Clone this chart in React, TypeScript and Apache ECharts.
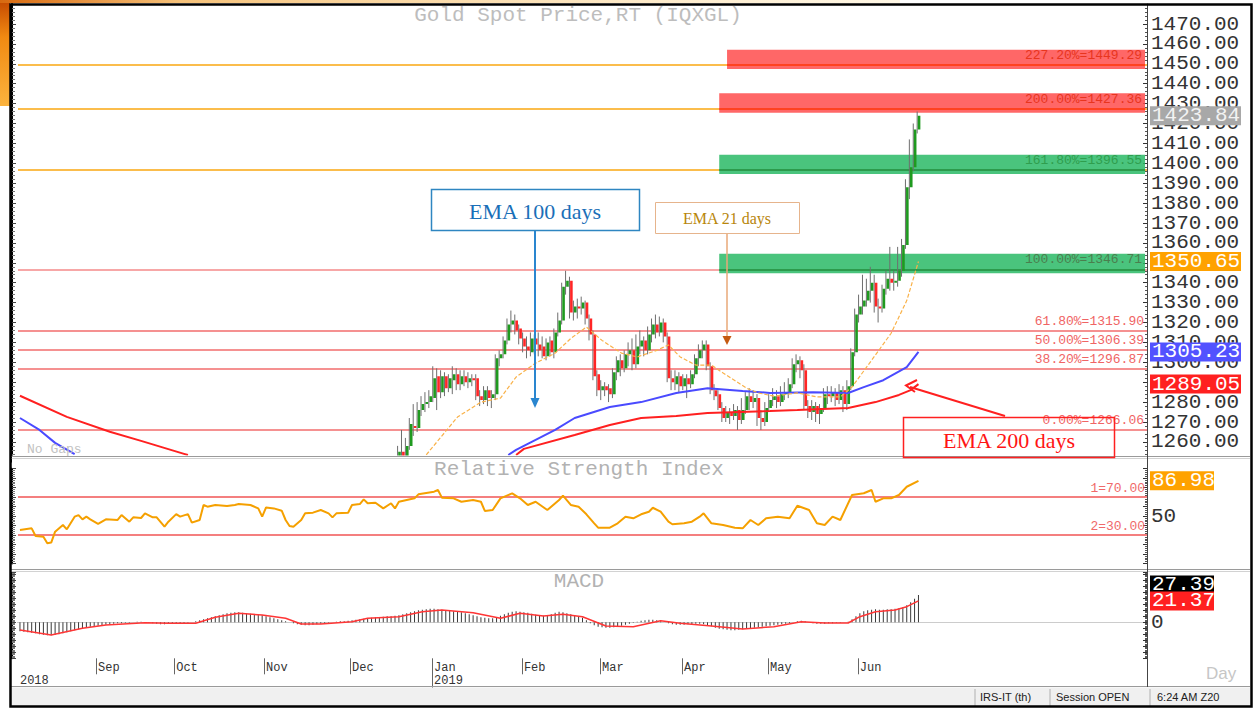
import React, { useEffect, useRef } from "react";
import * as echarts from "echarts";

// ---------- categories (trading weekdays) ----------
const TOTAL_DAYS = 289;
const FIRST_DAY = [2018, 7, 6]; // 2018-08-06
const LAST_DATA_INDEX = 230;
const MONTH_NAMES = ["Jan", "Feb", "Mar", "Apr", "May", "Jun", "Jul", "Aug", "Sep", "Oct", "Nov", "Dec"];

function buildWeekdays(n: number): string[] {
  const out: string[] = [];
  const d = new Date(Date.UTC(FIRST_DAY[0], FIRST_DAY[1], FIRST_DAY[2]));
  while (out.length < n) {
    const wd = d.getUTCDay();
    if (wd !== 0 && wd !== 6) out.push(d.toISOString().slice(0, 10));
    d.setUTCDate(d.getUTCDate() + 1);
  }
  return out;
}
const days = buildWeekdays(TOTAL_DAYS);

// ---------- price candles [open, close, low, high] ----------
const CANDLE_START = 97;
const candles: number[][] = [
  [1247, 1255, 1245, 1258], [1255, 1252, 1249, 1266], [1252, 1258, 1250, 1262], [1258, 1269, 1256, 1272],
  [1268, 1267, 1263, 1279], [1267, 1276, 1265, 1280], [1276, 1279, 1273, 1283], [1279, 1280, 1275, 1285],
  [1280, 1283, 1277, 1286], [1282, 1292, 1280, 1298], [1293, 1285, 1276, 1297], [1285, 1293, 1282, 1296],
  [1293, 1287, 1283, 1295], [1287, 1292, 1285, 1294], [1291, 1294, 1284, 1298], [1294, 1289, 1286, 1297],
  [1289, 1293, 1286, 1296], [1293, 1290, 1288, 1296], [1290, 1292, 1287, 1295], [1292, 1291, 1288, 1294],
  [1292, 1283, 1281, 1294], [1283, 1281, 1278, 1286], [1281, 1286, 1279, 1288], [1286, 1282, 1278, 1288],
  [1282, 1284, 1277, 1286], [1284, 1302, 1281, 1304], [1302, 1304, 1298, 1306], [1304, 1311, 1302, 1313],
  [1311, 1319, 1309, 1322], [1319, 1321, 1315, 1326], [1321, 1316, 1314, 1324], [1317, 1312, 1309, 1319],
  [1312, 1308, 1305, 1315], [1308, 1306, 1302, 1313], [1305, 1312, 1303, 1315], [1312, 1309, 1304, 1314],
  [1309, 1306, 1303, 1315], [1308, 1303, 1302, 1313], [1303, 1310, 1301, 1312], [1311, 1305, 1303, 1313],
  [1305, 1315, 1302, 1317], [1315, 1321, 1313, 1325], [1321, 1338, 1319, 1340], [1338, 1341, 1334, 1346],
  [1341, 1325, 1322, 1343], [1325, 1328, 1321, 1331], [1328, 1327, 1322, 1332], [1327, 1330, 1324, 1333],
  [1330, 1322, 1319, 1331], [1322, 1314, 1311, 1324], [1314, 1293, 1291, 1316], [1294, 1286, 1283, 1296],
  [1286, 1288, 1281, 1291], [1288, 1286, 1283, 1290], [1287, 1284, 1280, 1289], [1284, 1295, 1282, 1297],
  [1295, 1301, 1291, 1303], [1301, 1297, 1293, 1304], [1297, 1304, 1295, 1306], [1304, 1306, 1298, 1310],
  [1306, 1299, 1296, 1312], [1299, 1308, 1297, 1314], [1308, 1311, 1304, 1316], [1311, 1306, 1303, 1313],
  [1306, 1314, 1304, 1318], [1314, 1319, 1310, 1322], [1319, 1315, 1312, 1324], [1315, 1320, 1313, 1323],
  [1320, 1313, 1310, 1322], [1313, 1292, 1290, 1315], [1292, 1290, 1286, 1296], [1289, 1293, 1286, 1296],
  [1293, 1288, 1285, 1295], [1288, 1292, 1286, 1294], [1292, 1289, 1282, 1294], [1289, 1294, 1287, 1296],
  [1294, 1302, 1292, 1304], [1302, 1306, 1298, 1309], [1306, 1309, 1302, 1311], [1309, 1298, 1296, 1311],
  [1298, 1286, 1284, 1300], [1286, 1283, 1281, 1289], [1284, 1277, 1276, 1286], [1277, 1272, 1270, 1280],
  [1272, 1275, 1270, 1278], [1275, 1273, 1269, 1277], [1273, 1276, 1271, 1279], [1276, 1271, 1266, 1278],
  [1271, 1276, 1269, 1282], [1276, 1283, 1274, 1285], [1283, 1280, 1276, 1287], [1280, 1282, 1277, 1286],
  [1282, 1272, 1268, 1284], [1272, 1270, 1266, 1276], [1270, 1277, 1268, 1280], [1277, 1281, 1275, 1284],
  [1281, 1283, 1278, 1287], [1283, 1280, 1277, 1286], [1280, 1284, 1278, 1288], [1284, 1285, 1281, 1290],
  [1285, 1289, 1282, 1292], [1289, 1299, 1287, 1302], [1299, 1301, 1295, 1304], [1301, 1296, 1292, 1303],
  [1296, 1278, 1276, 1299], [1278, 1275, 1272, 1281], [1275, 1278, 1271, 1281], [1278, 1274, 1270, 1280],
  [1274, 1277, 1269, 1279], [1277, 1284, 1275, 1287], [1284, 1283, 1279, 1288], [1283, 1285, 1280, 1288],
  [1285, 1281, 1278, 1287], [1281, 1286, 1279, 1289], [1286, 1279, 1275, 1288], [1279, 1288, 1276, 1291],
  [1288, 1305, 1286, 1307], [1305, 1324, 1303, 1327], [1324, 1328, 1320, 1334], [1328, 1331, 1324, 1344],
  [1331, 1336, 1328, 1342], [1336, 1340, 1330, 1348], [1340, 1328, 1325, 1344], [1328, 1327, 1320, 1332],
  [1327, 1337, 1325, 1339], [1337, 1342, 1334, 1346], [1342, 1340, 1336, 1358], [1340, 1341, 1336, 1346],
  [1341, 1346, 1338, 1358], [1346, 1359, 1343, 1362], [1359, 1388, 1357, 1392], [1388, 1398, 1382, 1412],
  [1398, 1417, 1396, 1420], [1417, 1423.84, 1415, 1426],
];

// ---------- moving averages [dayIndex, value] ----------
const ema200Left = [[0, 1283.2], [12, 1272.6], [23, 1265.1], [31, 1260.5], [42, 1254.0], [43, 1253.4]];
const ema200Right = [[127, 1253.4], [129, 1256.5], [142, 1263.5], [151, 1268.5], [159, 1272], [168, 1273],
  [176, 1274.5], [192, 1275.5], [199, 1276], [212, 1277], [219, 1280], [225, 1283.6], [228, 1286], [230, 1289.05]];
const ema100Left = [[0, 1272], [5, 1266], [9, 1259.5], [14, 1253.8]];
const ema100Right = [[125, 1253.4], [127, 1256], [137, 1266], [142, 1272], [151, 1277.5], [159, 1280],
  [168, 1284.6], [176, 1287], [185, 1285.6], [192, 1284.6], [203, 1285], [212, 1284.6], [216, 1287.5],
  [221, 1291], [227, 1297.6], [230, 1305.23]];
const ema21 = [[104, 1253.5], [112, 1272.5], [118, 1280], [123, 1282], [127, 1292.6], [132, 1299.6],
  [137, 1304.6], [141, 1312], [145, 1317.7], [149, 1311], [154, 1304.6], [158, 1302.7], [163, 1306],
  [166, 1308.7], [169, 1302.7], [173, 1298.6], [177, 1298.6], [180, 1294.6], [186, 1287], [189, 1284.6],
  [193, 1283], [199, 1284.6], [204, 1282.6], [210, 1282.6], [213, 1287.6], [218, 1301], [223, 1314.6],
  [227, 1331], [230, 1350.65]];

// ---------- Fibonacci levels ----------
const fibPct = ["227.20%", "200.00%", "161.80%", "100.00%", "61.80%", "50.00%", "38.20%", "0.00%"];
const fibValues = [1449.29, 1427.36, 1396.55, 1346.71, 1315.9, 1306.39, 1296.87, 1266.06];
const fibBandFrom = [181, 179, 179, 179, -1, -1, -1, -1];
const fibBandKind = ["red", "red", "green", "green2", "", "", "", ""];

const priceTags = [1423.84, 1350.65, 1305.23, 1289.05];

// ---------- RSI ----------
const rsi = [[0, 35.3], [3, 37], [4, 29], [6, 28.2], [7, 21.3], [8, 22], [9, 33.5], [11, 40.5], [12, 36],
  [14, 49.3], [15, 51], [16, 46.5], [17, 49.3], [18, 46.5], [20, 41.6], [22, 46.5], [25, 45.8], [26, 51],
  [28, 44], [29, 48.6], [31, 47.9], [32, 52.8], [34, 48.6], [35, 48.6], [37, 38.7], [38, 44], [40, 52],
  [41, 49.3], [43, 52], [44, 43], [46, 45.8], [47, 61.6], [48, 59.8], [50, 61.6], [53, 60.5], [55, 61.6],
  [56, 62.6], [59, 61.6], [61, 58], [62, 49.3], [63, 59], [65, 58], [67, 55.6], [68, 45.8], [69, 39.5],
  [70, 38.7], [72, 45.8], [73, 52.8], [75, 53.5], [77, 56.3], [79, 52.8], [80, 48.6], [81, 52.8], [84, 53.5],
  [85, 61.6], [87, 62.6], [88, 67.5], [89, 63.4], [91, 64], [93, 58], [95, 63.4], [96, 58], [97, 65],
  [99, 66.8], [101, 68.6], [102, 72.8], [106, 75.6], [107, 77.4], [108, 69.3], [111, 68.6], [113, 65],
  [116, 66.8], [118, 65], [119, 55.3], [121, 56.3], [123, 68.6], [126, 73.9], [128, 68.6], [130, 61.6],
  [132, 65], [135, 56.3], [138, 66.8], [139, 71.4], [141, 61.6], [143, 59.8], [145, 51.8], [147, 42.3],
  [148, 37.7], [151, 37.7], [153, 42.3], [155, 49.3], [157, 47.6], [159, 51.8], [161, 54.5], [162, 58.7],
  [164, 54.5], [166, 44], [167, 41.3], [170, 42.3], [172, 44], [174, 49.3], [175, 52.8], [177, 42.3],
  [180, 40.5], [183, 37.7], [185, 37], [187, 45.8], [189, 40.5], [191, 47.6], [194, 49.3], [197, 47.6],
  [199, 60.8], [202, 56.3], [204, 42.3], [206, 40.5], [208, 49.3], [210, 45.8], [213, 72.1], [216, 73.9],
  [218, 77.4], [219, 65], [221, 68.6], [223, 68.6], [225, 72.1], [227, 80.8], [230, 86.98]];
const rsiLevels = [70, 30];
const rsiLevelNames = ["1=70.00", "2=30.00"];
const rsiLast = 86.98;

// ---------- MACD ----------
const macd = [
  -9, -9.5, -10, -10.5, -11, -12, -12.5, -13, -13, -12.5,
  -12, -11, -10, -9, -8, -7, -6, -5, -4.5, -4,
  -3.5, -3, -2.5, -2, -1.5, -1, -1, -0.5, -0.5, 0,
  0.5, 0.5, 0, -0.5, -1, -1.5, -2, -2, -1.5, -1.5,
  -1.5, -1, -1, -0.5, 0, 1, 2, 3, 4, 5,
  6, 7, 8, 9, 9.5, 10, 10, 9.5, 9, 8.5,
  8, 7.5, 7, 6, 5, 4, 3, 2, 1, 0,
  -1, -2, -2.5, -3, -3, -2.5, -2, -1.5, -1, -0.5,
  0, 0.5, 1, 1, 1.5, 2, 2.5, 3, 3.5, 4,
  4.5, 5, 5, 5.5, 6, 6, 6.5, 7, 8, 9,
  10, 11, 12, 12.5, 13, 13.5, 13.5, 13, 12.5, 12,
  11.5, 11, 10.5, 10, 9, 8, 7, 6, 5, 4.5,
  4, 4, 5, 6.5, 8, 9.5, 10.5, 11, 10.5, 10,
  9.5, 8.5, 7.5, 7, 6.5, 7, 8, 9.5, 10.5, 10,
  9, 8, 7, 6, 4.5, 2, -1, -3, -4.5, -5,
  -5.5, -5.5, -5, -4.5, -3.5, -2.5, -1.5, -0.5, 0.5, 1.5,
  2, 2.5, 2.5, 2, 1, 0, -1, -2, -2.5, -2.5,
  -2.5, -2, -2, -1.5, -1.5, -2, -3, -4, -5.5, -6.5,
  -7, -7.5, -8, -8, -7.5, -7, -6.5, -6, -5.5, -5,
  -4.5, -4, -3.5, -3, -2.5, -2, -1.5, -1, 0, 1,
  1.5, 1, 0, -1, -1.5, -1.5, -1.5, -1, -1, -0.5,
  -0.5, 0, 0.5, 3, 6, 9, 11, 12, 12.5, 13,
  12.5, 12.5, 13, 13, 13.5, 14, 15, 17, 20, 23.5,
  27.39,
];
const macdSignal = [[0, -7.7], [8, -12.7], [16, -6], [22, -2.7], [32, -0.4], [38, -1], [45, -1], [50, 5],
  [56, 9], [62, 7.3], [68, 4], [72, -1.7], [77, -1.7], [85, 0.6], [89, 4], [97, 5.6], [103, 10.6],
  [108, 12.3], [116, 9.6], [123, 4], [128, 9], [134, 6.3], [139, 8], [144, 5.6], [150, -3.7], [157, -4.4],
  [164, 1.6], [169, -1], [177, -3.7], [185, -6.7], [193, -4.4], [200, 0.6], [206, -0.7], [212, -0.7],
  [215, 5.6], [219, 10.6], [224, 12.3], [227, 15.6], [230, 21.37]];
const macdLast = 27.39;
const signalLast = 21.37;

// ---------- styling ----------
const MONO = '"Liberation Mono", "DejaVu Sans Mono", monospace';
const SERIF = '"Liberation Serif", "DejaVu Serif", serif';
const SANS = '"Liberation Sans", "DejaVu Sans", sans-serif';
const GRID_LEFT = 18;
const GRID_WIDTH = 1129;
const LAST_CAT = TOTAL_DAYS - 1;

const BAND_FILL: Record<string, string> = {
  red: "rgba(255,78,78,0.86)",
  green: "rgba(44,186,104,0.86)",
  green2: "rgba(44,186,104,0.86)",
};
const BAND_LINE: Record<string, string> = { red: "#ff4220", green: "#2c9a4c", green2: "#2c9a4c" };
const BAND_LABEL: Record<string, string> = { red: "#e8351e", green: "#2f9e4e", green2: "#4a7f4e" };

function buildOption() {
  const monthStarts: number[] = [];
  for (let i = 1; i <= LAST_DATA_INDEX; i++) {
    if (days[i].slice(5, 7) !== days[i - 1].slice(5, 7)) monthStarts.push(i);
  }
  const monthSet = new Set(monthStarts);
  const janIdx = days.indexOf("2019-01-01");

  const hiddenX = (gi: number) => ({
    type: "category", gridIndex: gi, data: days, boundaryGap: true, show: false,
  });

  const rightY = (gi: number, min: number, max: number, interval: number, fmt: (v: number) => string) => ({
    type: "value", gridIndex: gi, position: "right", min, max, interval,
    axisLine: { show: true, lineStyle: { color: "#333", width: 1 } },
    axisTick: { show: true, inside: true, length: 4, lineStyle: { color: "#333" } },
    minorTick: { show: true, splitNumber: 5, length: 2, lineStyle: { color: "#555" } },
    splitLine: { show: false },
    axisLabel: {
      show: true, showMinLabel: false, showMaxLabel: false, formatter: fmt,
      fontFamily: MONO, fontSize: 21, color: "#333", margin: 4,
    },
  });
  const leftY = (gi: number, min: number, max: number, interval: number) => ({
    type: "value", gridIndex: gi, position: "left", offset: 6, min, max, interval,
    axisLine: { show: true, lineStyle: { color: "#000", width: 2 } },
    axisTick: { show: true, inside: true, length: 4, lineStyle: { color: "#444" } },
    minorTick: { show: true, splitNumber: 5, length: 3, lineStyle: { color: "#777" } },
    axisLabel: { show: false },
    splitLine: { show: false },
  });

  const fullLines = fibValues.map((v, k) => ({
    yAxis: v,
    lineStyle: { color: k < 3 ? "#fbbd4c" : "#f58a8a", width: k < 3 ? 2 : 1.5, type: "solid" },
  }));

  const bands = fibValues
    .map((v, k) => ({ v, k }))
    .filter((o) => fibBandFrom[o.k] >= 0)
    .map(({ v, k }) => [
      { xAxis: fibBandFrom[k], yAxis: v - 1.9, itemStyle: { color: BAND_FILL[fibBandKind[k]] } },
      { xAxis: LAST_CAT, yAxis: v + 7.8 },
    ]);

  const labelled: any[] = fibValues.map((v, k) => {
    const text = `${fibPct[k]}=${v.toFixed(2)}`;
    const kind = fibBandKind[k];
    const label = {
      show: true, position: "insideEndTop", formatter: text, distance: 3,
      color: kind ? BAND_LABEL[kind] : "#f06464", fontFamily: MONO, fontSize: 13,
    };
    if (fibBandFrom[k] >= 0) {
      return [
        { xAxis: fibBandFrom[k], yAxis: v, lineStyle: { color: BAND_LINE[kind], width: 2, type: "solid" }, label },
        { xAxis: LAST_CAT, yAxis: v },
      ];
    }
    return { yAxis: v, lineStyle: { color: "#f58a8a", width: 1.5, type: "solid" }, label };
  });

  const candleData = candles.map((c, k) => [CANDLE_START + k, c[0], c[1], c[2], c[3]]);
  const tickData = monthStarts.map((i) => [i, 0, i === janIdx ? 1 : 0]);

  return {
    animation: false,
    backgroundColor: "#ffffff",
    textStyle: { fontFamily: MONO },
    grid: [
      { left: GRID_LEFT, top: 4.1, width: GRID_WIDTH, height: 457.7, outerBoundsMode: "none" },
      { left: GRID_LEFT, top: 468.5, width: GRID_WIDTH, height: 95, outerBoundsMode: "none" },
      { left: GRID_LEFT, top: 572.3, width: GRID_WIDTH, height: 86, outerBoundsMode: "none" },
    ],
    xAxis: [
      hiddenX(0),
      hiddenX(1),
      {
        type: "category", gridIndex: 2, data: days, boundaryGap: true, position: "bottom",
        axisLine: { show: true, lineStyle: { color: "#8a8a8a", width: 1 } },
        axisTick: { show: false },
        axisLabel: {
          show: true, interval: (i: number) => monthSet.has(i),
          formatter: (v: string) => MONTH_NAMES[Number(v.slice(5, 7)) - 1],
          align: "left", margin: 4, fontFamily: MONO, fontSize: 12, color: "#333",
        },
        splitLine: { show: false },
      },
      {
        type: "category", gridIndex: 2, data: days, boundaryGap: true, position: "bottom", offset: 16,
        axisLine: { show: true, lineStyle: { color: "#cccccc", width: 1 } },
        axisTick: { show: false },
        axisLabel: {
          show: true, interval: (i: number) => i === 0 || i === janIdx,
          formatter: (v: string) => v.slice(0, 4),
          align: "left", margin: 1, fontFamily: MONO, fontSize: 12, color: "#333",
        },
        splitLine: { show: false },
      },
    ],
    yAxis: [
      rightY(0, 1250, 1480, 10, (v: number) => v.toFixed(2)),
      leftY(0, 1250, 1480, 10),
      rightY(1, 0, 100, 10, (v: number) => (v === 50 ? "50" : "")),
      leftY(1, 0, 100, 10),
      rightY(2, -36, 50, 6, (v: number) => (v === 0 ? "0" : "")),
      leftY(2, -36, 50, 6),
    ],
    series: [
      {
        name: "EMA 200 (early)", type: "line", xAxisIndex: 0, yAxisIndex: 0, data: ema200Left,
        showSymbol: false, silent: true, z: 5, lineStyle: { color: "#ff2020", width: 2 },
        markLine: { silent: true, symbol: "none", z: 1, animation: false, label: { show: false }, data: fullLines },
      },
      {
        name: "EMA 100 (early)", type: "line", xAxisIndex: 0, yAxisIndex: 0, data: ema100Left,
        showSymbol: false, silent: true, z: 5, lineStyle: { color: "#4a4aff", width: 2 },
        markArea: { silent: true, z: 2, animation: false, data: bands },
      },
      {
        name: "Gold", type: "custom", xAxisIndex: 0, yAxisIndex: 0, data: candleData, clip: true, z: 4,
        encode: { x: 0, y: [1, 2, 3, 4] },
        renderItem: (params: any, api: any) => {
          const i = api.value(0);
          const o = api.value(1), c = api.value(2), l = api.value(3), h = api.value(4);
          const pO = api.coord([i, o]), pC = api.coord([i, c]);
          const pL = api.coord([i, l]), pH = api.coord([i, h]);
          const x = pO[0];
          const top = Math.min(pO[1], pC[1]);
          const bh = Math.max(Math.abs(pO[1] - pC[1]), 1.2);
          const up = c >= o;
          return {
            type: "group",
            children: [
              { type: "line", shape: { x1: x - 1.3, y1: pH[1], x2: x - 1.3, y2: pL[1] }, style: { stroke: "#6e6e6e", lineWidth: 1 } },
              { type: "rect", shape: { x: x - 0.7, y: top, width: 2.6, height: bh }, style: { fill: up ? "#1f9a1f" : "#ff2626" } },
            ],
          };
        },
      },
      {
        name: "EMA 200", type: "line", xAxisIndex: 0, yAxisIndex: 0, data: ema200Right,
        showSymbol: false, silent: true, z: 6, lineStyle: { color: "#ff2020", width: 2 },
      },
      {
        name: "EMA 100", type: "line", xAxisIndex: 0, yAxisIndex: 0, data: ema100Right,
        showSymbol: false, silent: true, z: 6, lineStyle: { color: "#4a4aff", width: 2 },
      },
      {
        name: "EMA 21", type: "line", xAxisIndex: 0, yAxisIndex: 0, data: ema21,
        showSymbol: false, silent: true, z: 6, lineStyle: { color: "#f9b24a", width: 1.2, type: [4, 2] },
        markLine: { silent: true, symbol: "none", z: 3, animation: false, data: labelled },
      },
      {
        name: "RSI", type: "line", xAxisIndex: 1, yAxisIndex: 2, data: rsi,
        showSymbol: false, silent: true, z: 5, lineStyle: { color: "#f5a000", width: 2 },
        markLine: {
          silent: true, symbol: "none", z: 1, animation: false,
          lineStyle: { color: "#f47f7f", width: 2, type: "solid" },
          data: rsiLevels.map((v, k) => ({
            yAxis: v,
            lineStyle: { color: "#f47f7f", width: 2, type: "solid" },
            label: {
              show: true, position: "insideEndTop", formatter: rsiLevelNames[k], distance: 2,
              color: "#f06a6a", fontFamily: MONO, fontSize: 13,
            },
          })),
        },
      },
      {
        name: "MACD", type: "bar", xAxisIndex: 2, yAxisIndex: 4, data: macd, barWidth: 1,
        silent: true, itemStyle: { color: "#3a3a3a" },
      },
      {
        name: "Signal", type: "line", xAxisIndex: 2, yAxisIndex: 4, data: macdSignal,
        showSymbol: false, silent: true, z: 5, lineStyle: { color: "#ff3535", width: 1.5 },
      },
      {
        name: "Month ticks", type: "custom", xAxisIndex: 2, yAxisIndex: 4, data: tickData, clip: false, z: 8,
        silent: true,
        renderItem: (params: any, api: any) => {
          const p = api.coord([api.value(0), 0]);
          const bw = api.size([1, 0])[0];
          const x = Math.round(p[0] - bw / 2) + 0.5;
          const y0 = params.coordSys.y + params.coordSys.height;
          const len = api.value(2) ? 30 : 16;
          return { type: "line", shape: { x1: x, y1: y0, x2: x, y2: y0 + len }, style: { stroke: "#666", lineWidth: 1 } };
        },
      },
    ],
  };
}

function tag(x: number, y: number, w: number, text: string, bg: string, fg: string) {
  return [
    { type: "rect", z: 90, shape: { x, y: y - 9.5, width: w, height: 19 }, style: { fill: bg } },
    {
      type: "text", z: 91,
      style: {
        text, x: x + 2, y, fill: fg, font: `21px ${MONO}`,
        align: "left", textAlign: "left", verticalAlign: "middle", textVerticalAlign: "middle",
      },
    },
  ];
}

function txt(text: string, x: number, y: number, font: string, fill: string, align = "left", z = 80) {
  return {
    type: "text", z,
    style: { text, x, y, fill, font, align, textAlign: align, verticalAlign: "middle", textVerticalAlign: "middle" },
  };
}

function hline(x1: number, x2: number, y: number, stroke: string, w = 1, z = 60) {
  return { type: "line", z, shape: { x1, y1: y, x2, y2: y }, style: { stroke, lineWidth: w } };
}

export default function App() {
  const ref = useRef<HTMLDivElement>(null);

  useEffect(() => {
    if (!ref.current) return;
    const chart = echarts.init(ref.current, null, { renderer: "svg" });
    chart.setOption(buildOption() as any);

    const py = (v: number) => chart.convertToPixel({ yAxisIndex: 0 } as any, v) as number;
    const ry = (v: number) => chart.convertToPixel({ yAxisIndex: 2 } as any, v) as number;
    const my = (v: number) => chart.convertToPixel({ yAxisIndex: 4 } as any, v) as number;

    const tagColors = [
      ["#a8a8a8", "#f2f2f2"],
      ["#ffa200", "#ffffff"],
      ["#5252ff", "#ffffff"],
      ["#ff2020", "#ffffff"],
    ];

    const g: any[] = [];
    // slide background corner
    g.push({
      type: "rect", z: 100, shape: { x: 0, y: 0, width: 10, height: 106 },
      style: {
        fill: new echarts.graphic.LinearGradient(0, 0, 0, 1, [
          { offset: 0, color: "#c44800" }, { offset: 0.35, color: "#f08a12" }, { offset: 1, color: "#fbb33e" },
        ]),
      },
    });
    g.push({
      type: "rect", z: 100, shape: { x: 0, y: 0, width: 900, height: 3 },
      style: {
        fill: new echarts.graphic.LinearGradient(0, 0, 1, 0, [
          { offset: 0, color: "#d86a10" }, { offset: 0.2, color: "#f6c27a" }, { offset: 1, color: "rgba(255,235,190,0.4)" },
        ]),
      },
    });
    // mask below price panel
    g.push({ type: "rect", z: 50, shape: { x: 12, y: 455.5, width: 1238, height: 12.5 }, style: { fill: "#ffffff" } });
    // panel separators
    g.push(hline(11, 1250, 456.5, "#9a9a9a"));
    g.push(hline(11, 1250, 458.5, "#d2d2d2"));
    g.push(hline(11, 1250, 569.5, "#9a9a9a"));
    g.push(hline(11, 1250, 571.5, "#d2d2d2"));
    g.push(hline(11, 1250, 686.5, "#9a9a9a"));
    // right vertical line
    g.push({ type: "line", z: 60, shape: { x1: 1147.5, y1: 5, x2: 1147.5, y2: 687 }, style: { stroke: "#444", lineWidth: 1 } });
    // status bar
    g.push({ type: "rect", z: 55, shape: { x: 11, y: 687.5, width: 1239, height: 19 }, style: { fill: "#f0f0f0" } });
    [975, 1050, 1150].forEach((x) =>
      g.push({ type: "line", z: 60, shape: { x1: x, y1: 689, x2: x, y2: 706 }, style: { stroke: "#b0b0b0", lineWidth: 1 } })
    );
    g.push(txt("IRS-IT (th)", 980, 697, `11px ${SANS}`, "#222"));
    g.push(txt("Session OPEN", 1056, 697, `11px ${SANS}`, "#222"));
    g.push(txt("6:24 AM Z20", 1157, 697, `11px ${SANS}`, "#222"));
    // frame
    g.push({
      type: "rect", z: 120, shape: { x: 10.5, y: 4.5, width: 1241, height: 702 },
      style: { fill: "none", stroke: "#000", lineWidth: 2.5 },
    });
    // panel titles and captions
    g.push(txt("Gold Spot Price,RT (IQXGL)", 578, 15, `21px ${MONO}`, "#bdbdbd", "center"));
    g.push(txt("Relative Strength Index", 579, 469, `21px ${MONO}`, "#b2b2b2", "center"));
    g.push(txt("MACD", 579, 581, `21px ${MONO}`, "#b2b2b2", "center"));
    g.push(txt("No Gaps", 27, 449, `13px ${MONO}`, "#c2c2c2"));
    g.push(txt("Day", 1206, 673, `17px ${SANS}`, "#c6c6c6"));

    // annotation: EMA 100
    g.push({ type: "rect", z: 70, shape: { x: 431.5, y: 189.5, width: 208, height: 41 }, style: { fill: "#fff", stroke: "#2e86c1", lineWidth: 1.5 } });
    g.push(txt("EMA 100 days", 535, 211, `22px ${SERIF}`, "#1a6fb8", "center", 71));
    g.push({ type: "line", z: 70, shape: { x1: 535, y1: 231, x2: 535, y2: 400 }, style: { stroke: "#2a86cf", lineWidth: 2 } });
    g.push({ type: "polygon", z: 70, shape: { points: [[530.5, 398], [539.5, 398], [535, 408]] }, style: { fill: "#2a86cf" } });
    // annotation: EMA 21
    g.push({ type: "rect", z: 70, shape: { x: 655.5, y: 202.5, width: 144, height: 31 }, style: { fill: "#fff", stroke: "#e6b48c", lineWidth: 1 } });
    g.push(txt("EMA 21 days", 727, 218, `16px ${SERIF}`, "#b8860b", "center", 71));
    g.push({ type: "line", z: 70, shape: { x1: 727, y1: 234, x2: 727, y2: 338 }, style: { stroke: "#e8a878", lineWidth: 1.5 } });
    g.push({ type: "polygon", z: 70, shape: { points: [[722.5, 336], [731.5, 336], [727, 345]] }, style: { fill: "#c55a11" } });
    // annotation: EMA 200 (transparent box)
    g.push({ type: "rect", z: 70, shape: { x: 903.5, y: 417.5, width: 211, height: 40 }, style: { fill: "none", stroke: "#ff2020", lineWidth: 1.5 } });
    g.push(txt("EMA 200 days", 1009, 440, `22px ${SERIF}`, "#ff1414", "center", 71));
    g.push({ type: "line", z: 70, shape: { x1: 1005, y1: 416, x2: 910, y2: 387 }, style: { stroke: "#ff2020", lineWidth: 2 } });
    g.push({ type: "polyline", z: 70, shape: { points: [[917, 380], [906, 385.5], [915, 392]] }, style: { stroke: "#ff2020", lineWidth: 2, fill: "none" } });

    // value tags on the right axes
    priceTags.forEach((v, k) => {
      g.push(...tag(1150, py(v), 91, v.toFixed(2), tagColors[k][0], tagColors[k][1]));
    });
    g.push(...tag(1150, ry(rsiLast), 64, rsiLast.toFixed(2), "#ffa200", "#ffffff"));
    g.push(...tag(1150, my(macdLast) - 10, 64, macdLast.toFixed(2), "#000000", "#ffffff"));
    g.push(...tag(1150, my(signalLast), 64, signalLast.toFixed(2), "#ff2020", "#ffffff"));

    chart.setOption({ graphic: g } as any);

    return () => chart.dispose();
  }, []);

  return (
    <div
      ref={ref}
      style={{ position: "absolute", left: 0, top: 0, width: 1255, height: 708, background: "#fff" }}
    />
  );
}
